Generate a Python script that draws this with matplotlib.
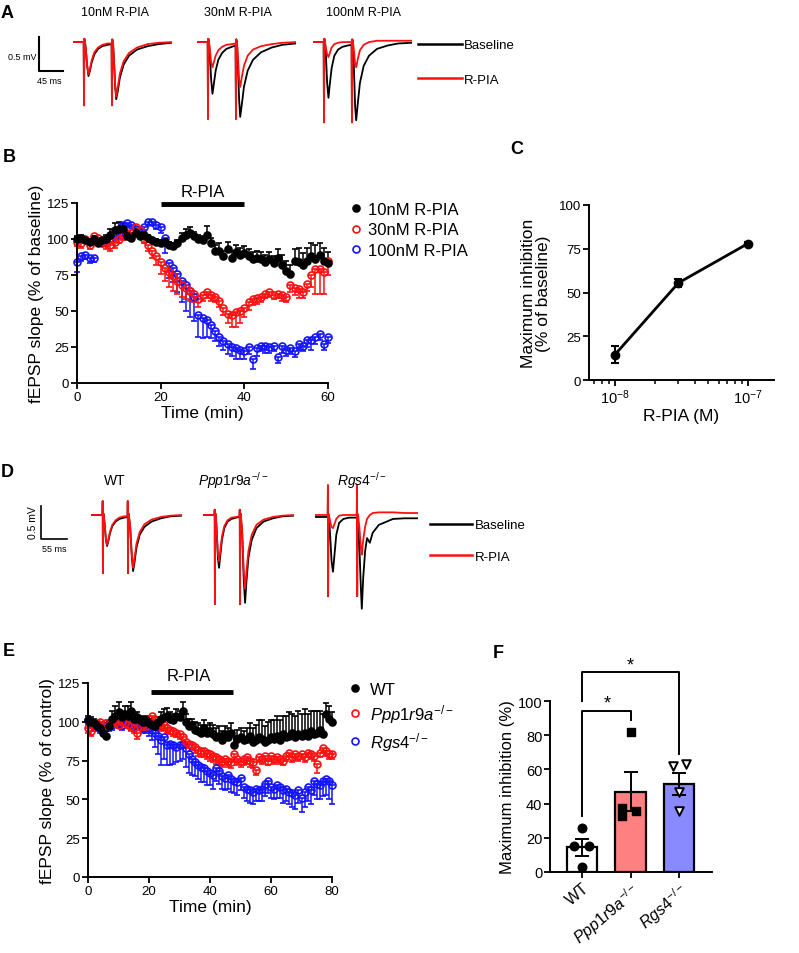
import numpy as np
import matplotlib.pyplot as plt
from matplotlib.lines import Line2D

plt.rcParams['font.family'] = ['Liberation Sans', 'DejaVu Sans']
plt.rcParams['mathtext.fontset'] = 'custom'
plt.rcParams['mathtext.rm'] = 'Liberation Sans'
plt.rcParams['mathtext.it'] = 'Liberation Sans:italic'
plt.rcParams['mathtext.bf'] = 'Liberation Sans:bold'

RED = '#ff1010'
BLUE = '#1414ff'

# ---------------- A: example traces (ms, mV) ----------------
a_titles = ['10nM R-PIA', '30nM R-PIA', '100nM R-PIA']
a_time = [0, 20, 20.6, 21.2, 22.5, 24, 26.5, 29, 31.5, 35, 40, 47, 55, 65, 72.4,
          73, 73.6, 75, 77, 79, 81, 84, 88, 95, 105, 120, 140, 160, 185]
a_base_10 = [0, 0, -0.93, 0.05, 0.0, -0.1, -0.35, -0.5, -0.43, -0.3, -0.18, -0.1, -0.06, -0.04, -0.03,
             -0.93, 0.04, 0.0, -0.3, -0.65, -0.84, -0.72, -0.52, -0.33, -0.2, -0.11, -0.06, -0.03, -0.01]
a_rpia_10 = [0, 0, -0.93, 0.05, 0.0, -0.1, -0.33, -0.47, -0.4, -0.27, -0.15, -0.08, -0.04, -0.02, -0.02,
             -0.93, 0.04, 0.0, -0.28, -0.62, -0.8, -0.66, -0.46, -0.28, -0.16, -0.08, -0.03, -0.01, 0.0]
a_base_30 = [0, 0, -1.13, 0.05, 0.0, -0.15, -0.55, -0.76, -0.62, -0.42, -0.26, -0.16, -0.1, -0.07, -0.05,
             -1.13, 0.04, 0.0, -0.4, -0.85, -1.1, -0.92, -0.66, -0.42, -0.26, -0.15, -0.08, -0.04, -0.02]
a_rpia_30 = [0, 0, -1.13, 0.05, 0.0, -0.1, -0.3, -0.37, -0.3, -0.2, -0.12, -0.07, -0.04, -0.03, -0.02,
             -1.13, 0.04, 0.0, -0.25, -0.55, -0.66, -0.52, -0.35, -0.2, -0.11, -0.06, -0.03, -0.01, 0.0]
a_base_100 = [0, 0, -1.18, 0.05, 0.0, -0.15, -0.6, -0.82, -0.62, -0.38, -0.2, -0.11, -0.07, -0.05, -0.04,
              -1.18, 0.04, 0.0, -0.45, -0.95, -1.15, -0.9, -0.6, -0.35, -0.2, -0.1, -0.05, -0.02, -0.01]
a_rpia_100 = [0, 0, -1.18, 0.05, 0.0, -0.08, -0.18, -0.22, -0.16, -0.08, -0.03, -0.01, 0.0, 0.0, 0.0,
              -1.18, 0.04, 0.0, -0.15, -0.32, -0.37, -0.25, -0.12, -0.04, 0.0, 0.02, 0.02, 0.02, 0.02]

# ---------------- B: time course, dose series ----------------
b_time = np.arange(61)
b_10nm = [100, 101, 99, 98, 100, 97, 99, 100, 103, 106,
          107, 107, 102, 101, 104, 102, 103, 101, 99, 98,
          97, 98, 96, 95, 97, 101, 103, 104, 102, 100,
          99, 103, 97, 92, 92, 88, 93, 87, 91, 89,
          90, 88, 86, 87, 86, 84, 86, 83, 87, 82,
          78, 76, 85, 84, 82, 85, 88, 86, 89, 85, 83]
b_10nm_err = [2, 2, 2, 2, 2, 2, 2, 3, 4, 5,
              5, 4, 3, 3, 3, 2, 2, 2, 2, 2,
              2, 2, 2, 2, 2, 3, 4, 4, 3, 3,
              3, 6, 4, 4, 5, 4, 5, 5, 5, 5,
              5, 5, 5, 5, 5, 5, 5, 5, 6, 7,
              7, 6, 8, 10, 8, 9, 9, 10, 8, 9, 8]
b_30nm = [98, 97, 100, 96, 102, 101, 98, 97, 96, 98,
          100, 102, 104, 104, 108, 106, 100, 96, 92, 88,
          84, 80, 77, 74, 71, 68, 66, 64, 62, 58,
          61, 63, 61, 60, 57, 52, 48, 47, 49, 50,
          52, 56, 58, 59, 60, 62, 63, 61, 62, 61,
          60, 68, 66, 65, 63, 69, 75, 79, 79, 77, 85]
b_30nm_err = [3, 3, 3, 3, 3, 3, 3, 4, 4, 4,
              3, 3, 3, 3, 3, 3, 3, 4, 5, 6,
              8, 9, 10, 10, 9, 8, 8, 7, 6, 5,
              4, 4, 4, 4, 4, 5, 6, 8, 10, 8,
              6, 5, 4, 4, 4, 3, 3, 3, 3, 4,
              4, 5, 5, 6, 4, 5, 8, 17, 17, 15, 10]
b_100nm = [84, 88, 89, 87, 87, 98, 97, 99, 100, 102,
           104, 110, 111, 110, 107, 105, 108, 112, 112, 110,
           108, 101, 83, 80, 76, 71, 68, 64, 60, 47,
           45, 44, 40, 36, 32, 29, 27, 25, 24, 23,
           22, 25, 17, 24, 26, 26, 25, 26, 18, 26,
           23, 24, 22, 27, 26, 30, 30, 32, 34, 27, 32]
b_100nm_err = [7, 3, 3, 4, 3, 2, 2, 2, 2, 2,
               2, 2, 2, 2, 2, 2, 2, 2, 2, 3,
               4, 11, 10, 10, 13, 15, 18, 18, 17, 15,
               14, 12, 9, 7, 6, 6, 7, 6, 7, 6,
               5, 5, 7, 5, 4, 5, 4, 4, 4, 5,
               4, 4, 4, 4, 4, 5, 7, 5, 4, 4, 4]
b_labels = ['10nM R-PIA', '30nM R-PIA', '100nM R-PIA']

# ---------------- C: dose response ----------------
c_conc = [1e-8, 3e-8, 1e-7]
c_inhib = [14.5, 55.5, 78]
c_err = [5, 2.5, 1]

# ---------------- D: example traces per genotype ----------------
d_time = [0, 24.4, 24.8, 25.2, 25.8, 27, 29, 31.5, 34, 36.5, 40, 45, 52, 60, 70,
          77.4, 77.8, 78.2, 78.8, 80, 83, 86, 89, 92, 96, 103, 113, 128, 148, 168, 192]
d_base_wt = [0, 0, 0.21, -0.88, 0.03, 0.0, -0.15, -0.38, -0.47, -0.4, -0.28, -0.17, -0.1, -0.06, -0.04,
             -0.03, 0.21, -0.88, 0.03, 0.0, -0.2, -0.6, -0.85, -0.72, -0.5, -0.3, -0.18, -0.1, -0.05, -0.02, -0.01]
d_rpia_wt = [0, 0, 0.21, -0.88, 0.03, 0.0, -0.14, -0.36, -0.45, -0.38, -0.26, -0.15, -0.08, -0.04, -0.02,
             -0.02, 0.21, -0.88, 0.03, 0.0, -0.18, -0.56, -0.8, -0.66, -0.44, -0.26, -0.14, -0.07, -0.03, -0.01, 0.0]
d_base_ppp = [0, 0, 0.08, -1.35, 0.03, 0.0, -0.25, -0.65, -0.8, -0.62, -0.38, -0.2, -0.1, -0.06, -0.04,
              -0.03, 0.08, -1.35, 0.03, 0.0, -0.3, -0.95, -1.33, -1.0, -0.65, -0.38, -0.2, -0.1, -0.05, -0.02, -0.01]
d_rpia_ppp = [0, 0, 0.08, -1.35, 0.03, 0.0, -0.22, -0.58, -0.7, -0.55, -0.33, -0.17, -0.08, -0.04, -0.03,
              -0.02, 0.08, -1.35, 0.03, 0.0, -0.26, -0.82, -1.12, -0.85, -0.55, -0.3, -0.15, -0.07, -0.03, -0.01, 0.0]
d_time_rgs = [0, 26.9, 27.3, 27.7, 28.3, 29.5, 32, 35, 38, 41, 45, 51, 60, 72, 88.4,
              88.8, 89.2, 89.8, 91, 94, 97, 99, 102, 106, 110, 116, 122, 135, 165, 190, 218]
d_base_rgs = [-0.03, -0.03, 0.45, -1.23, 0.0, -0.03, -0.3, -0.7, -0.86, -0.62, -0.3, -0.12, -0.06, -0.04, -0.04,
              0.45, -1.23, 0.0, -0.04, -0.5, -1.1, -1.42, -0.95, -0.55, -0.35, -0.42, -0.27, -0.15, -0.06, -0.05, -0.05]
d_rpia_rgs = [0, 0, 0.45, -1.23, 0.02, 0.0, -0.1, -0.18, -0.2, -0.14, -0.06, -0.01, 0.0, 0.0, 0.0,
              0.45, -1.23, 0.02, 0.0, -0.2, -0.5, -0.6, -0.38, -0.18, -0.06, 0.0, 0.03, 0.04, 0.04, 0.03, 0.03]
geno_labels = ['WT', r'$\mathit{Ppp1r9a}^{-/-}$', r'$\mathit{Rgs4}^{-/-}$']

# ---------------- E: time course per genotype ----------------
e_time = np.arange(81)
e_wt = [101, 100, 99, 97, 96, 93, 91, 97, 102, 104,
        106, 103, 105, 104, 107, 102, 103, 101, 100, 101,
        99, 98, 97, 100, 102, 103, 104, 102, 101, 104,
        103, 107, 100, 97, 98, 95, 94, 93, 96, 93,
        94, 92, 90, 91, 88, 92, 90, 93, 85, 89,
        90, 88, 89, 91, 87, 88, 90, 89, 87, 88,
        90, 89, 91, 88, 92, 90, 91, 93, 90, 92,
        91, 93, 91, 94, 92, 93, 95, 92, 105, 102, 100]
e_wt_err = [3, 3, 3, 3, 3, 3, 3, 3, 5, 6,
            7, 4, 5, 6, 6, 3, 3, 3, 3, 3,
            3, 3, 3, 3, 4, 5, 5, 4, 4, 4,
            4, 6, 5, 5, 4, 5, 5, 5, 5, 5,
            5, 6, 6, 6, 6, 5, 6, 6, 6, 6,
            6, 6, 7, 8, 9, 10, 11, 12, 10, 12,
            11, 12, 13, 13, 12, 14, 15, 12, 14, 15,
            14, 15, 14, 13, 15, 14, 12, 13, 7, 8, 6]
e_ppp = [96, 94, 98, 99, 100, 97, 99, 98, 100, 99,
         98, 100, 99, 98, 97, 96, 93, 97, 98, 97,
         102, 104, 101, 98, 97, 98, 96, 95, 94, 93,
         92, 90, 87, 86, 85, 84, 82, 81, 81, 80,
         79, 78, 77, 76, 75, 76, 75, 74, 79, 76,
         75, 76, 77, 75, 74, 69, 77, 76, 78, 75,
         78, 76, 77, 76, 75, 78, 80, 77, 79, 78,
         79, 77, 80, 79, 78, 73, 80, 83, 81, 79, 79]
e_ppp_err = [3, 3, 2, 2, 2, 2, 2, 2, 2, 2,
             2, 2, 2, 2, 3, 3, 4, 2, 2, 2,
             3, 3, 3, 3, 3, 3, 3, 3, 3, 3,
             3, 3, 3, 3, 3, 4, 4, 4, 4, 4,
             4, 4, 4, 4, 4, 4, 4, 4, 4, 4,
             4, 4, 4, 4, 4, 3, 3, 3, 3, 3,
             3, 3, 3, 3, 3, 3, 3, 3, 3, 3,
             3, 3, 3, 3, 3, 6, 3, 3, 3, 3, 3]
e_rgs = [101, 99, 97, 98, 96, 98, 99, 97, 98, 100,
         99, 98, 101, 100, 98, 97, 98, 99, 96, 97,
         96, 95, 93, 91, 88, 90, 85, 86, 85, 84,
         85, 86, 83, 79, 76, 74, 72, 71, 70, 68,
         67, 66, 70, 68, 65, 64, 66, 63, 62, 61,
         64, 58, 57, 56, 55, 57, 56, 57, 60, 62,
         58, 57, 59, 58, 56, 57, 55, 54, 53, 56,
         51, 55, 58, 56, 62, 60, 59, 62, 63, 62, 59]
e_rgs_err = [3, 3, 3, 3, 3, 3, 3, 3, 3, 3,
             3, 3, 3, 3, 3, 3, 3, 3, 3, 4,
             5, 7, 9, 12, 16, 14, 13, 14, 12, 10,
             10, 10, 12, 12, 10, 9, 9, 10, 9, 9,
             8, 9, 8, 8, 8, 8, 9, 8, 8, 8,
             8, 7, 8, 8, 8, 8, 7, 8, 8, 8,
             7, 7, 8, 7, 8, 8, 8, 9, 9, 8,
             9, 10, 9, 9, 9, 10, 9, 10, 10, 12, 12]

# ---------------- F: maximum inhibition per genotype ----------------
f_mean = [14.5, 47, 51.5]
f_sem = [5, 11.5, 6.5]
f_wt = [26, 15.4, 15.4, 2.7]
f_ppp = [82, 37.4, 33, 35.8]
f_rgs = [62, 63, 46.6, 35.8]
f_colors = ['white', '#ff8080', '#8a8aff']

W, H = 799, 954
fig = plt.figure(figsize=(W / 100, H / 100), dpi=100)


def add_ax(left, top, width, height):
    return fig.add_axes([left / W, 1 - (top + height) / H, width / W, height / H])


def ftext(x, y, s, **kw):
    fig.text(x / W, 1 - y / H, s, **kw)


def style(ax, size=9.5):
    for side in ['top', 'right']:
        ax.spines[side].set_visible(False)
    for side in ['left', 'bottom']:
        ax.spines[side].set_linewidth(1.4)
    ax.tick_params(direction='out', length=4, width=1.3, labelsize=size, pad=1.5)


def trace_ax(left, top, ms_px, mv_px, t, base, drug, ylim):
    ax = add_ax(left, top, t[-1] / ms_px, (ylim[1] - ylim[0]) / mv_px)
    ax.plot(t, base, color='black', lw=1.3)
    ax.plot(t, drug, color=RED, lw=1.3)
    ax.set_xlim(0, t[-1])
    ax.set_ylim(*ylim)
    ax.axis('off')
    return ax


def timecourse(ax, t, y, err, color, filled, up):
    z = np.zeros(len(err))
    ax.errorbar(t, y, yerr=[z, err] if up else [err, z], fmt='o', color=color,
                mfc=color if filled else 'none', mec=color, ms=5, mew=1.2,
                elinewidth=1.1, capsize=2.2, capthick=1.1, clip_on=False)


# ---- panel A ----
a_ms, a_mv = 45 / 24, 0.5 / 34
a_ylim = (-1.35, 0.2)
ax_a = []
for left, base, drug in zip([73, 197, 313], [a_base_10, a_base_30, a_base_100],
                            [a_rpia_10, a_rpia_30, a_rpia_100]):
    ax_a.append(trace_ax(left, 29.5, a_ms, a_mv, a_time, base, drug, a_ylim))
for x, s in zip([115, 238, 363], a_titles):
    ftext(x, 13, s, fontsize=9, ha='center', va='center')
ax_a[0].plot([-64, -64, -19], [0.07, -0.43, -0.43], color='black', lw=1.5, clip_on=False)
ftext(22, 57, '0.5 mV', fontsize=6.5, ha='center', va='center')
ftext(49, 82, '45 ms', fontsize=6.5, ha='center', va='center')
trace_handles = [Line2D([], [], color='black', lw=1.8), Line2D([], [], color=RED, lw=1.8)]
fig.legend(trace_handles, ['Baseline', 'R-PIA'], loc='upper left',
           bbox_to_anchor=(418 / W, 1 - 40 / H), frameon=False, fontsize=9.5,
           handlelength=3.3, handletextpad=0.2, labelspacing=1.7, borderpad=0, borderaxespad=0)

# ---- panel B ----
ax_b = add_ax(77, 204, 251, 180)
style(ax_b)
timecourse(ax_b, b_time, b_100nm, b_100nm_err, BLUE, False, False)
timecourse(ax_b, b_time, b_30nm, b_30nm_err, RED, False, False)
timecourse(ax_b, b_time, b_10nm, b_10nm_err, 'black', True, True)
ax_b.set_xlim(0, 60)
ax_b.set_ylim(0, 125)
ax_b.set_xticks([0, 20, 40, 60])
ax_b.set_yticks([0, 25, 50, 75, 100, 125])
ax_b.plot([20, 40], [124, 124], color='black', lw=3.5, solid_capstyle='butt', clip_on=False)
ax_b.text(30, 133, 'R-PIA', ha='center', va='center', fontsize=12)
ax_b.set_xlabel('Time (min)', fontsize=12.5, labelpad=2)
ax_b.set_ylabel('fEPSP slope (% of baseline)', fontsize=12.5, labelpad=2)
b_handles = [Line2D([], [], ls='', marker='o', color=c, mfc=c if f else 'none', ms=5, mew=1.2)
             for c, f in [('black', True), (RED, False), (BLUE, False)]]
ax_b.legend(b_handles, b_labels, loc='upper left', bbox_to_anchor=(1.085, 1.005), frameon=False,
            fontsize=12, handlelength=0.8, handletextpad=0.3, labelspacing=0.32,
            borderpad=0, borderaxespad=0)

# ---- panel C ----
ax_c = add_ax(589, 206, 185, 175)
style(ax_c)
ax_c.errorbar(c_conc, c_inhib, yerr=c_err, fmt='-o', color='black', lw=2, ms=6,
              elinewidth=1.5, capsize=3, capthick=1.5)
ax_c.set_xscale('log')
ax_c.set_xlim(10 ** -8.195, 10 ** -6.805)
ax_c.set_ylim(0, 100)
ax_c.set_yticks([0, 25, 50, 75, 100])
ax_c.set_xticks([1e-8, 1e-7])
ax_c.tick_params(axis='x', labelsize=10.5)
ax_c.tick_params(which='minor', direction='out', length=3, width=1.1)
ax_c.set_xlabel('R-PIA (M)', fontsize=12.5, labelpad=1)
ax_c.set_ylabel('Maximum inhibition\n(% of baseline)', fontsize=12.5, labelpad=6, linespacing=1.0)

# ---- panel D ----
d_ms, d_mv = 55 / 26, 0.5 / 33
d_ylim = (-1.55, 0.55)
ax_d = []
for left, t, base, drug in zip([91, 203, 315], [d_time, d_time, d_time_rgs],
                               [d_base_wt, d_base_ppp, d_base_rgs],
                               [d_rpia_wt, d_rpia_ppp, d_rpia_rgs]):
    ax_d.append(trace_ax(left, 479.7, d_ms, d_mv, t, base, drug, d_ylim))
for x, s in zip([115, 233, 362], geno_labels):
    ftext(x, 481, s, fontsize=10, ha='center', va='center')
ax_d[0].plot([-105.75, -105.75, -50.75], [0.136, -0.364, -0.364], color='black', lw=1.2,
             clip_on=False)
ftext(33, 523, '0.5 mV', fontsize=7.5, ha='center', va='center', rotation=90)
ftext(54, 550, '55 ms', fontsize=6.5, ha='center', va='center')
fig.legend(trace_handles, ['Baseline', 'R-PIA'], loc='upper left',
           bbox_to_anchor=(430 / W, 1 - 520 / H), frameon=False, fontsize=9.5,
           handlelength=3.2, handletextpad=0.2, labelspacing=1.45, borderpad=0, borderaxespad=0)

# ---- panel E ----
ax_e = add_ax(88, 684, 244, 194)
style(ax_e)
timecourse(ax_e, e_time, e_rgs, e_rgs_err, BLUE, False, False)
timecourse(ax_e, e_time, e_ppp, e_ppp_err, RED, False, False)
timecourse(ax_e, e_time, e_wt, e_wt_err, 'black', True, True)
ax_e.set_xlim(0, 80)
ax_e.set_ylim(0, 125)
ax_e.set_xticks([0, 20, 40, 60, 80])
ax_e.set_yticks([0, 25, 50, 75, 100, 125])
ax_e.plot([20.5, 47.5], [119, 119], color='black', lw=3.5, solid_capstyle='butt', clip_on=False)
ax_e.text(33, 130, 'R-PIA', ha='center', va='center', fontsize=12)
ax_e.set_xlabel('Time (min)', fontsize=12.5, labelpad=2)
ax_e.set_ylabel('fEPSP slope (% of control)', fontsize=12.5, labelpad=2)
ax_e.legend(b_handles, geno_labels, loc='upper left', bbox_to_anchor=(1.065, 1.005), frameon=False,
            fontsize=12, handlelength=0.8, handletextpad=0.5, labelspacing=0.3,
            borderpad=0, borderaxespad=0)

# ---- panel F ----
ax_f = add_ax(550, 702, 162, 171)
style(ax_f, size=10.5)
xpos = np.arange(3)
ax_f.bar(xpos, f_mean, width=0.62, color=f_colors, edgecolor='black', linewidth=1.6, zorder=2)
ax_f.errorbar(xpos, f_mean, yerr=f_sem, fmt='none', ecolor='black', elinewidth=1.4,
              capsize=5, capthick=1.4, zorder=3)
ax_f.scatter(xpos[0] + np.array([0, -0.16, 0.14, 0]), f_wt, marker='o', s=38, color='black', zorder=4)
ax_f.scatter(xpos[1] + np.array([0, -0.17, -0.17, 0.12]), f_ppp, marker='s', s=38, color='black', zorder=4)
ax_f.scatter(xpos[2] + np.array([-0.13, 0.14, 0, 0]), f_rgs, marker='v', s=38, facecolor='white',
             edgecolor='black', linewidth=1.4, zorder=4)
ax_f.plot([0, 0, 2, 2], [100, 117, 117, 69], color='black', lw=1.4, clip_on=False)
ax_f.plot([0, 0, 1, 1], [33, 94, 94, 89], color='black', lw=1.4, clip_on=False)
ax_f.text(1.0, 121, '*', ha='center', va='center', fontsize=13)
ax_f.text(0.52, 99, '*', ha='center', va='center', fontsize=13)
ax_f.set_xlim(-0.66, 2.68)
ax_f.set_ylim(0, 100)
ax_f.set_yticks([0, 20, 40, 60, 80, 100])
ax_f.set_xticks(xpos)
ax_f.set_xticklabels(geno_labels, rotation=40, ha='right', rotation_mode='anchor', fontsize=11.5)
ax_f.set_ylabel('Maximum inhibition (%)', fontsize=12, labelpad=2)

# ---- panel letters ----
for x, y, s in [(7, 13, 'A'), (9, 157, 'B'), (517, 150, 'C'), (7, 473, 'D'),
                (9, 652, 'E'), (498, 653, 'F')]:
    ftext(x, y, s, fontsize=13, fontweight='bold', ha='center', va='center')

fig.savefig('out.png', dpi=100)
